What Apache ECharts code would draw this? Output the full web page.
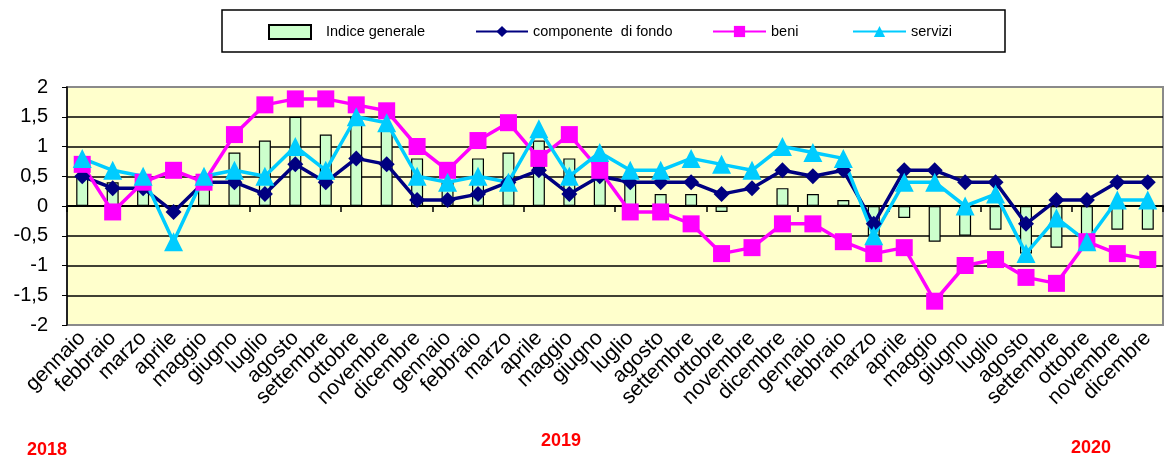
<!DOCTYPE html>
<html>
<head>
<meta charset="utf-8">
<script src="https://cdn.jsdelivr.net/npm/echarts@6/dist/echarts.min.js"></script>
<style>
html,body{margin:0;padding:0;background:#fff;}
#chart{width:1165px;height:462px;}
</style>
</head>
<body>
<div id="chart"></div>
<script>
const categories = [
 'gennaio','febbraio','marzo','aprile','maggio','giugno','luglio','agosto','settembre','ottobre','novembre','dicembre',
 'gennaio','febbraio','marzo','aprile','maggio','giugno','luglio','agosto','settembre','ottobre','novembre','dicembre',
 'gennaio','febbraio','marzo','aprile','maggio','giugno','luglio','agosto','settembre','ottobre','novembre','dicembre'
];
const indiceGenerale = [
 0.5,0.4,0.5,0,0.4,0.9,1.1,1.5,1.2,1.5,1.3,0.8,
 0.4,0.8,0.9,1.1,0.8,0.5,0.4,0.2,0.2,-0.1,0,0.3,
 0.2,0.1,-0.5,-0.2,-0.6,-0.5,-0.4,-0.8,-0.7,-0.6,-0.4,-0.4
];
const componenteDiFondo = [
 0.5,0.3,0.3,-0.1,0.4,0.4,0.2,0.7,0.4,0.8,0.7,0.1,
 0.1,0.2,0.4,0.6,0.2,0.5,0.4,0.4,0.4,0.2,0.3,0.6,
 0.5,0.6,-0.3,0.6,0.6,0.4,0.4,-0.3,0.1,0.1,0.4,0.4
];
const beni = [
 0.7,-0.1,0.4,0.6,0.4,1.2,1.7,1.8,1.8,1.7,1.6,1.0,
 0.6,1.1,1.4,0.8,1.2,0.6,-0.1,-0.1,-0.3,-0.8,-0.7,-0.3,
 -0.3,-0.6,-0.8,-0.7,-1.6,-1.0,-0.9,-1.2,-1.3,-0.6,-0.8,-0.9
];
const servizi = [
 0.8,0.6,0.5,-0.6,0.5,0.6,0.5,1.0,0.6,1.5,1.4,0.5,
 0.4,0.5,0.4,1.3,0.5,0.9,0.6,0.6,0.8,0.7,0.6,1.0,
 0.9,0.8,-0.5,0.4,0.4,0.0,0.2,-0.8,-0.2,-0.6,0.1,0.1
];
const yearLabels = ['2018','2019','2020'];

const chart = echarts.init(document.getElementById('chart'), null, {renderer:'canvas'});
const FONT = 'Liberation Sans, Arial, sans-serif';
const legendCommon = {top: 24, padding: 0, itemHeight: 14, textStyle:{fontFamily:FONT, fontSize:14.5, color:'#000'}, selectedMode:false};
chart.setOption({
  animation:false,
  backgroundColor:'#fff',
  graphic:[
    {type:'rect', z:-1, shape:{x:222,y:10,width:783,height:42}, style:{fill:'#fff', stroke:'#000', lineWidth:1.5}},
    {type:'text', left:27, top:441, style:{text:yearLabels[0], fill:'#ff0000', font:'bold 18px '+FONT}},
    {type:'text', left:541, top:432, style:{text:yearLabels[1], fill:'#ff0000', font:'bold 18px '+FONT}},
    {type:'text', left:1071, top:439, style:{text:yearLabels[2], fill:'#ff0000', font:'bold 18px '+FONT}}
  ],
  legend:[
    Object.assign({}, legendCommon, {left:268, itemWidth:42, data:[{name:'Indice generale', icon:'rect'}], textStyle:{fontFamily:FONT,fontSize:14.5,color:'#000',padding:[0,0,0,10]}}),
    Object.assign({}, legendCommon, {left:475, itemWidth:52, data:['componente  di fondo']}),
    Object.assign({}, legendCommon, {left:712, itemWidth:53, data:['beni']}),
    Object.assign({}, legendCommon, {left:852, itemWidth:53, data:['servizi']})
  ],
  grid:{left:67, right:2, top:87, bottom:137, show:true, backgroundColor:'#FFFFCC', borderColor:'#8a8a8a', borderWidth:2},
  xAxis:[
    {type:'category', data:categories, boundaryGap:true,
     axisLine:{show:true, onZero:true, lineStyle:{color:'#000', width:2}},
     axisTick:{show:true, length:6, lineStyle:{color:'#000', width:1.5}},
     axisLabel:{show:false}, splitLine:{show:false}},
    {type:'category', data:categories, boundaryGap:true, position:'bottom',
     axisLine:{show:false, onZero:false}, axisTick:{show:false},
     axisLabel:{show:true, rotate:45, interval:0, margin:10, fontFamily:FONT, fontSize:21, color:'#000'}}
  ],
  yAxis:{type:'value', min:-2, max:2, interval:0.5,
    axisLine:{show:true, lineStyle:{color:'#000', width:1.5}},
    axisTick:{show:true, length:5, lineStyle:{color:'#000'}},
    axisLabel:{fontFamily:FONT, fontSize:20, color:'#000', margin:19, formatter:v=>String(v).replace('.',',')},
    splitLine:{show:true, lineStyle:{color:['#8a8a8a','#000','#000','#000','#000','#000','#000','#000','#8a8a8a'], width:1.5}}
  },
  series:[
    {name:'Indice generale', type:'bar', xAxisIndex:0, data:indiceGenerale, barWidth:12,
     itemStyle:{color:'#CCFFCC', borderColor:'#000', borderWidth:1.2}},
    {name:'componente  di fondo', type:'line', xAxisIndex:0, data:componenteDiFondo,
     symbol:'diamond', symbolSize:16, lineStyle:{color:'#000080', width:3.5}, itemStyle:{color:'#000080'}},
    {name:'beni', type:'line', xAxisIndex:0, data:beni,
     symbol:'rect', symbolSize:17, lineStyle:{color:'#FF00FF', width:3.5}, itemStyle:{color:'#FF00FF'}},
    {name:'servizi', type:'line', xAxisIndex:0, data:servizi,
     symbol:'triangle', symbolSize:19, lineStyle:{color:'#00CCFF', width:3.5}, itemStyle:{color:'#00CCFF'}}
  ]
});
</script>
</body>
</html>
